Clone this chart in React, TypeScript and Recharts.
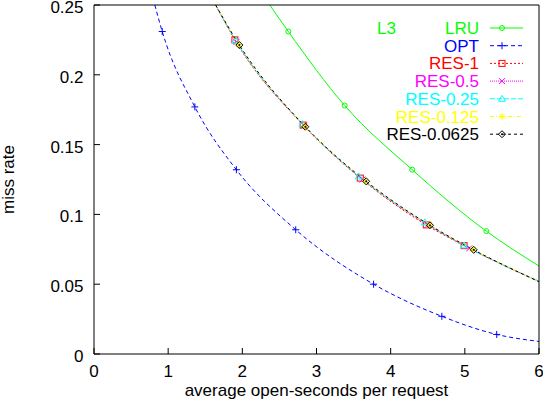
import { LineChart, Line, XAxis, YAxis, Legend } from 'recharts'

// axis ticks
const X_TICKS = [0, 1, 2, 3, 4, 5, 6]
const Y_TICKS = [0, 0.05, 0.1, 0.15, 0.2, 0.25]

// curves; first/last point is where the curve leaves the frame
const LRU_X = [2.37, 2.62, 3.38, 4.29, 5.29, 6]
const LRU_Y = [0.25, 0.231, 0.178, 0.132, 0.088, 0.063]

const OPT_X = [0.82, 0.92, 1.36, 1.92, 2.72, 3.77, 4.69, 5.43, 6]
const OPT_Y = [0.25, 0.231, 0.177, 0.132, 0.089, 0.05, 0.027, 0.014, 0.009]

const RES_1_X = [1.64, 1.9, 2.82, 3.59, 4.48, 4.99, 6]
const RES_1_Y = [0.25, 0.225, 0.164, 0.126, 0.0925, 0.0776, 0.052]

const RES_05_X = [1.64, 1.92, 2.83, 3.62, 4.5, 5.06, 6]
const RES_05_Y = [0.25, 0.2235, 0.1636, 0.125, 0.0925, 0.0757, 0.052]

const RES_025_X = [1.64, 1.91, 2.81, 3.57, 4.46, 4.99, 6]
const RES_025_Y = [0.25, 0.2245, 0.1648, 0.1272, 0.0943, 0.0778, 0.0522]

const RES_0125_X = [1.64, 1.95, 2.84, 3.66, 4.52, 5.11, 6]
const RES_0125_Y = [0.25, 0.2218, 0.1632, 0.124, 0.0926, 0.0749, 0.052]

const RES_00625_X = [1.64, 1.96, 2.85, 3.67, 4.53, 5.12, 6]
const RES_00625_Y = [0.25, 0.2213, 0.1628, 0.1237, 0.0922, 0.0746, 0.0518]

const FONT = "'Liberation Sans', Arial, Helvetica, sans-serif"
const GREEN = '#00ff00'

type MarkerKind = 'circle' | 'plus' | 'square' | 'cross' | 'triangle' | 'star' | 'diamond'

interface Series {
  name: string
  xs: number[]
  ys: number[]
  color: string
  dash?: string
  marker: MarkerKind
}

const SERIES: Series[] = [
  { name: 'LRU', xs: LRU_X, ys: LRU_Y, color: GREEN, marker: 'circle' },
  { name: 'OPT', xs: OPT_X, ys: OPT_Y, color: '#0000ff', dash: '4 3', marker: 'plus' },
  { name: 'RES-1', xs: RES_1_X, ys: RES_1_Y, color: '#ff0000', dash: '2 2', marker: 'square' },
  { name: 'RES-0.5', xs: RES_05_X, ys: RES_05_Y, color: '#ff00ff', dash: '1 1', marker: 'cross' },
  { name: 'RES-0.25', xs: RES_025_X, ys: RES_025_Y, color: '#00ffff', dash: '5 2', marker: 'triangle' },
  { name: 'RES-0.125', xs: RES_0125_X, ys: RES_0125_Y, color: '#ffff00', dash: '4 2 1 2', marker: 'star' },
  { name: 'RES-0.0625', xs: RES_00625_X, ys: RES_00625_Y, color: '#000000', dash: '3 3', marker: 'diamond' },
]

function Marker({ kind, x, y, color }: { kind: MarkerKind; x: number; y: number; color: string }) {
  const s = 3
  switch (kind) {
    case 'circle':
      return <circle cx={x} cy={y} r={2.5} fill="none" stroke={color} />
    case 'plus':
      return <path d={`M${x - 3.5},${y}H${x + 3.5}M${x},${y - 3.5}V${y + 3.5}`} stroke={color} fill="none" />
    case 'square':
      return <rect x={x - s} y={y - s} width={2 * s} height={2 * s} fill="none" stroke={color} />
    case 'cross':
      return <path d={`M${x - s},${y - s}L${x + s},${y + s}M${x - s},${y + s}L${x + s},${y - s}`} stroke={color} fill="none" />
    case 'triangle':
      return <path d={`M${x},${y - 3.5}L${x + 3.5},${y + 2.5}L${x - 3.5},${y + 2.5}Z`} stroke={color} fill="none" />
    case 'star':
      return (
        <path
          d={`M${x - 3.5},${y}H${x + 3.5}M${x},${y - 3.5}V${y + 3.5}M${x - 2.5},${y - 2.5}L${x + 2.5},${y + 2.5}M${x - 2.5},${y + 2.5}L${x + 2.5},${y - 2.5}`}
          stroke={color}
          fill="none"
        />
      )
    default:
      return (
        <g>
          <path d={`M${x},${y - 3.5}L${x + 3.5},${y}L${x},${y + 3.5}L${x - 3.5},${y}Z`} stroke={color} fill="none" />
          <circle cx={x} cy={y} r={1} fill={color} />
        </g>
      )
  }
}

const textStyle = { fontFamily: FONT, fontSize: 17 }

const BottomTick = ({ x, y, payload }: any) => (
  <g>
    <line x1={x} y1={y} x2={x} y2={y - 6} stroke="#000" />
    <text x={x} y={y + 23} textAnchor="middle" fill="#000" style={textStyle}>
      {payload.value}
    </text>
  </g>
)

const TopTick = ({ x, y }: any) => <line x1={x} y1={y} x2={x} y2={y + 6} stroke="#000" />

const LeftTick = ({ x, y, payload }: any) => (
  <g>
    <line x1={x} y1={y} x2={x + 6} y2={y} stroke="#000" />
    <text x={x - 10.5} y={y + 8} textAnchor="end" fill="#000" style={textStyle}>
      {String(payload.value)}
    </text>
  </g>
)

const RightTick = ({ x, y }: any) => <line x1={x} y1={y} x2={x - 6} y2={y} stroke="#000" />

const renderLegend = () => (
  <svg width={543} height={150} style={{ display: 'block', overflow: 'visible' }}>
    <text x={377} y={34} fill={GREEN} style={textStyle}>
      L3
    </text>
    {SERIES.map((s, i) => {
      const cy = 28 + i * 17.7
      return (
        <g key={s.name}>
          <text x={479} y={cy + 6} textAnchor="end" fill={s.color} style={textStyle}>
            {s.name}
          </text>
          <line x1={490} x2={523} y1={cy} y2={cy} stroke={s.color} strokeDasharray={s.dash} />
          <Marker kind={s.marker} x={502} y={cy} color={s.color} />
        </g>
      )
    })}
  </svg>
)

export default function App() {
  return (
    <div style={{ position: 'absolute', left: 0, top: 0, width: 543, height: 400, background: '#fff' }}>
      <LineChart width={543} height={400} margin={{ top: 0, right: 0, bottom: 0, left: 0 }}>
        <XAxis
          type="number"
          dataKey="x"
          domain={[0, 6]}
          ticks={X_TICKS}
          interval={0}
          allowDataOverflow
          height={46}
          tickLine={false}
          tickSize={0}
          tickMargin={0}
          axisLine={{ stroke: '#000' }}
          tick={BottomTick}
          label={{
            content: ({ viewBox }: any) => (
              <text
                x={viewBox.x + viewBox.width / 2}
                y={viewBox.y + 42}
                textAnchor="middle"
                fill="#000"
                style={textStyle}
              >
                average open-seconds per request
              </text>
            ),
          }}
        />
        <XAxis
          xAxisId="top"
          orientation="top"
          type="number"
          domain={[0, 6]}
          ticks={X_TICKS}
          interval={0}
          height={5}
          tickLine={false}
          tickSize={0}
          tickMargin={0}
          axisLine={{ stroke: '#000' }}
          tick={TopTick}
        />
        <YAxis
          type="number"
          domain={[0, 0.25]}
          ticks={Y_TICKS}
          interval={0}
          allowDataOverflow
          width={94}
          tickLine={false}
          tickSize={0}
          tickMargin={0}
          axisLine={{ stroke: '#000' }}
          tick={LeftTick}
          label={{
            content: ({ viewBox }: any) => {
              const cx = 9
              const cy = viewBox.y + viewBox.height / 2
              return (
                <text
                  x={cx}
                  y={cy}
                  dy="0.3em"
                  textAnchor="middle"
                  fill="#000"
                  transform={`rotate(-90, ${cx}, ${cy})`}
                  style={textStyle}
                >
                  miss rate
                </text>
              )
            },
          }}
        />
        <YAxis
          yAxisId="right"
          orientation="right"
          type="number"
          domain={[0, 0.25]}
          ticks={Y_TICKS}
          interval={0}
          width={4}
          tickLine={false}
          tickSize={0}
          tickMargin={0}
          axisLine={{ stroke: '#000' }}
          tick={RightTick}
        />
        <Legend
          layout="horizontal"
          verticalAlign="middle"
          align="center"
          content={renderLegend}
          wrapperStyle={{ left: 0, top: 0, width: 543, height: 150 }}
        />
        {SERIES.map((s) => {
          const rows = s.xs.map((x, i) => ({ x, y: s.ys[i] }))
          const last = rows.length - 1
          return (
            <Line
              key={s.name}
              name={s.name}
              data={rows}
              dataKey="y"
              type="monotone"
              stroke={s.color}
              strokeWidth={1}
              strokeDasharray={s.dash}
              activeDot={false}
              isAnimationActive={false}
              dot={(p: any) =>
                p.index > 0 && p.index < last ? (
                  <Marker key={`${s.name}-${p.index}`} kind={s.marker} x={p.cx} y={p.cy} color={s.color} />
                ) : (
                  <g key={`${s.name}-${p.index}`} />
                )
              }
            />
          )
        })}
      </LineChart>
    </div>
  )
}
